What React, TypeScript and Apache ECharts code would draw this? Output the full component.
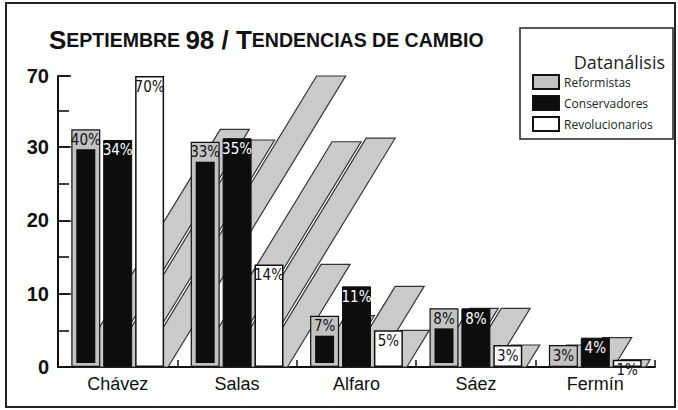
import React, { useEffect, useRef } from "react";
import * as echarts from "echarts";

const categories = ["Chávez", "Salas", "Alfaro", "Sáez", "Fermín"];
const seriesNames = ["Reformistas", "Conservadores", "Revolucionarios"];
const reformistas = [40, 33, 7, 8, 3];
const conservadores = [34, 35, 11, 8, 4];
const revolucionarios = [70, 14, 5, 3, 1];
const yTickLabels = ["0", "10", "20", "30", "70"];

const BAR_W = 29;
const BAR_GAP = 0.1;
const SHEAR = 0.61;
// break: values 30..70 are squeezed into a gap worth 9.7 units of the lower scale
const BREAK_START = 30;
const BREAK_END = 70;
const BREAK_GAP = 9.7;

function barOffset(i: number) {
  const gap = BAR_W * BAR_GAP;
  const total = 3 * BAR_W + 2 * gap;
  return -total / 2 + BAR_W / 2 + i * (BAR_W + gap);
}

export default function App() {
  const ref = useRef<HTMLDivElement>(null);
  useEffect(() => {
    if (!ref.current) return;
    const chart = echarts.init(ref.current, null, { renderer: "svg" });
    const all = [reformistas, conservadores, revolucionarios];
    const shadowData: number[][] = [];
    categories.forEach((_, c) => {
      all.forEach((arr, s) => shadowData.push([c, arr[c], s]));
    });
    const innerData = reformistas.map((v, c) => [c, v]);
    const labelFont = "'Liberation Sans Narrow', 'DejaVu Sans Condensed', 'Liberation Sans', sans-serif";
    const titleFont = "'Liberation Sans', Arial, sans-serif";
    const gridRect = { left: 58, right: 23, top: 76, bottom: 43 };

    chart.setOption({
      animation: false,
      backgroundColor: "#fff",
      title: [
        {
          left: 44,
          top: 22,
          text: "{b|S}{s|EPTIEMBRE} {b|98 / T}{s|ENDENCIAS DE CAMBIO}",
          textStyle: {
            fontSize: 19,
            fontWeight: "bold",
            fontFamily: titleFont,
            rich: {
              b: { fontSize: 26, fontWeight: "bold", fontFamily: titleFont, color: "#111" },
              s: { fontSize: 19.5, fontWeight: "bold", fontFamily: titleFont, color: "#111" },
            },
          },
        },
        {
          right: 13,
          top: 53,
          padding: 0,
          text: "Datanálisis",
          textStyle: { fontSize: 18, lineHeight: 18, fontWeight: "normal", fontFamily: "'Open Sans', sans-serif", color: "#222" },
        },
      ],
      graphic: [
        { type: "rect", shape: { x: 6, y: 3, width: 669, height: 404 }, style: { fill: "none", stroke: "#222", lineWidth: 2 }, z: 10 },
        { type: "rect", shape: { x: 520, y: 28, width: 153, height: 111 }, style: { fill: "none", stroke: "#222", lineWidth: 1.5 }, z: 10 },
      ],
      legend: {
        data: seriesNames,
        orient: "vertical",
        left: 532,
        top: 74,
        padding: 0,
        icon: "rect",
        itemWidth: 26,
        itemHeight: 14,
        itemGap: 5,
        textStyle: { fontSize: 12, lineHeight: 14, fontFamily: "'Open Sans', sans-serif", color: "#222" },
      },
      grid: [gridRect, { ...gridRect }],
      xAxis: [
        {
          type: "category",
          gridIndex: 0,
          data: categories,
          axisLine: { lineStyle: { color: "#111", width: 2 } },
          axisTick: { show: true, inside: true, length: 7, lineStyle: { color: "#111", width: 1.5 } },
          axisLabel: { fontSize: 18, fontFamily: "'Liberation Sans', sans-serif", color: "#111", margin: 8 },
        },
        { type: "value", gridIndex: 1, min: 0, max: 1, show: false },
      ],
      yAxis: [
        {
          type: "value",
          gridIndex: 0,
          min: 0,
          max: BREAK_END,
          interval: 10,
          breaks: [{ start: BREAK_START, end: BREAK_END, gap: BREAK_GAP }],
          breakArea: { show: false },
          splitLine: { show: false },
          axisLine: { show: false },
          axisTick: { show: true, inside: true, length: 13, lineStyle: { color: "#111", width: 1.6 } },
          axisLabel: {
            fontSize: 20,
            fontWeight: "bold",
            fontFamily: "'Liberation Sans', sans-serif",
            color: "#111",
            margin: 9,
            formatter: (v: number) => (yTickLabels.includes(String(v)) ? String(v) : ""),
          },
        },
        {
          // unbroken companion scale for the lower part: draws the axis line and the 5-unit ticks
          type: "value",
          gridIndex: 1,
          position: "left",
          min: 0,
          max: BREAK_START + BREAK_GAP,
          interval: 5,
          splitLine: { show: false },
          axisLine: { show: true, onZero: false, lineStyle: { color: "#111", width: 2 } },
          axisTick: { show: true, inside: true, length: 11, lineStyle: { color: "#111", width: 1.6 } },
          axisLabel: { show: false },
        },
      ],
      series: [
        {
          name: "shadow",
          type: "custom",
          z: 1,
          silent: true,
          data: shadowData,
          renderItem: (params: any, api: any) => {
            const c = api.value(0);
            const v = api.value(1);
            const s = api.value(2);
            const base = api.coord([c, 0]);
            const top = api.coord([c, v]);
            const cx = base[0] + barOffset(s);
            const h = base[1] - top[1];
            const g = 4;
            const x0 = cx - BAR_W / 2 + g;
            const x1 = cx + BAR_W / 2 + g;
            const d = SHEAR * h;
            return {
              type: "polygon",
              shape: { points: [[x0, base[1]], [x1, base[1]], [x1 + d, top[1]], [x0 + d, top[1]]] },
              style: { fill: "#cacaca", stroke: "#333", lineWidth: 1.2 },
            };
          },
        },
        {
          name: "Reformistas",
          type: "bar",
          z: 3,
          barWidth: BAR_W,
          barGap: "10%",
          data: reformistas,
          itemStyle: { color: "#c2c2c2", borderColor: "#111", borderWidth: 1.2 },
          label: { show: true, position: "insideTop", distance: 3, formatter: "{c}%", fontSize: 15, fontFamily: labelFont, color: "#111" },
        },
        {
          name: "Conservadores",
          type: "bar",
          z: 3,
          barWidth: BAR_W,
          barGap: "10%",
          data: conservadores,
          itemStyle: { color: "#0d0d0d", borderColor: "#111", borderWidth: 1 },
          label: { show: true, position: "insideTop", distance: 3, formatter: "{c}%", fontSize: 15, fontFamily: labelFont, color: "#fff" },
        },
        {
          name: "Revolucionarios",
          type: "bar",
          z: 3,
          barWidth: BAR_W,
          barGap: "10%",
          data: revolucionarios,
          itemStyle: { color: "#fff", borderColor: "#111", borderWidth: 1.5 },
          label: { show: true, position: "insideTop", distance: 3, formatter: "{c}%", fontSize: 15, fontFamily: labelFont, color: "#111" },
        },
        {
          name: "ref-inner",
          type: "custom",
          z: 4,
          silent: true,
          data: innerData,
          renderItem: (params: any, api: any) => {
            const c = api.value(0);
            const v = api.value(1);
            const base = api.coord([c, 0]);
            const top = api.coord([c, v]);
            const cx = base[0] + barOffset(0);
            const y0 = top[1] + 20;
            const y1 = base[1] - 4;
            if (y1 - y0 < 1) return null;
            return {
              type: "rect",
              shape: { x: cx - BAR_W / 2 + 5, y: y0, width: BAR_W - 10, height: y1 - y0 },
              style: { fill: "#0d0d0d" },
            };
          },
        },
      ],
    });
    return () => chart.dispose();
  }, []);
  return <div ref={ref} style={{ width: 678, height: 410, position: "absolute", left: 0, top: 0 }} />;
}
